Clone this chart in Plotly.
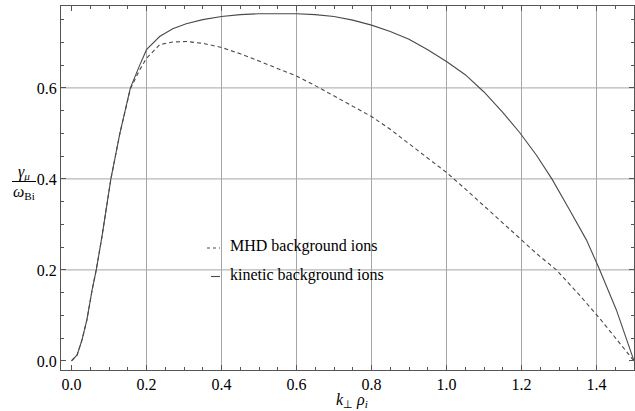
import plotly.graph_objects as go

# growth rate gamma_mu / omega_Bi versus k_perp rho_i
k_kinetic = [0.0, 0.015, 0.028, 0.041, 0.055, 0.066, 0.081, 0.105, 0.129, 0.157,
             0.182, 0.2, 0.235, 0.27, 0.306, 0.35, 0.4, 0.45, 0.5, 0.563, 0.6,
             0.65, 0.7, 0.75, 0.8, 0.85, 0.9, 0.95, 1.0, 1.05, 1.1, 1.15, 1.195,
             1.24, 1.281, 1.328, 1.373, 1.405, 1.453, 1.5]
gamma_kinetic = [0.0, 0.013, 0.046, 0.09, 0.156, 0.2, 0.272, 0.4, 0.5, 0.6,
                 0.65, 0.684, 0.713, 0.73, 0.741, 0.75, 0.757, 0.761, 0.763,
                 0.764, 0.763, 0.761, 0.757, 0.749, 0.738, 0.724, 0.707, 0.684,
                 0.658, 0.629, 0.591, 0.546, 0.502, 0.452, 0.4, 0.332, 0.266,
                 0.207, 0.112, 0.0]

k_mhd = [0.0, 0.015, 0.028, 0.041, 0.055, 0.066, 0.081, 0.105, 0.129, 0.157,
         0.182, 0.2, 0.235, 0.27, 0.306, 0.35, 0.4, 0.45, 0.5, 0.55, 0.6, 0.65,
         0.7, 0.75, 0.8, 0.85, 0.9, 0.95, 1.0, 1.05, 1.1, 1.15, 1.195, 1.24,
         1.293, 1.35, 1.405, 1.45, 1.5]
gamma_mhd = [0.0, 0.013, 0.046, 0.09, 0.156, 0.2, 0.272, 0.4, 0.5, 0.598,
             0.64, 0.665, 0.695, 0.701, 0.702, 0.698, 0.689, 0.675, 0.659,
             0.643, 0.626, 0.605, 0.582, 0.56, 0.537, 0.509, 0.478, 0.447,
             0.414, 0.378, 0.341, 0.304, 0.27, 0.236, 0.2, 0.149, 0.097,
             0.051, 0.0]

legend_labels = ["MHD background ions", "kinetic background ions"]
x_grid = [0.2, 0.4, 0.6, 0.8, 1.0, 1.2, 1.4]
y_grid = [0.2, 0.4, 0.6]
x_ticks = [0.0, 0.2, 0.4, 0.6, 0.8, 1.0, 1.2, 1.4]
y_ticks = [0.0, 0.2, 0.4, 0.6]

W, H = 635, 411
ML, MR, MT, MB = 61, 1, 6, 41
PW, PH = W - ML - MR, H - MT - MB

def px(xp):
    return (xp - ML) / PW

def py(yp):
    return (H - MB - yp) / PH

SERIF = "Liberation Serif"
CURVE = "#4a4a4a"
GRID = "#a6a6a6"
FRAME = "#555555"

fig = go.Figure()
fig.add_trace(go.Scatter(x=k_mhd, y=gamma_mhd, mode="lines",
                         line=dict(color=CURVE, width=1.1, dash="4px,3px"),
                         name=legend_labels[0], showlegend=False))
fig.add_trace(go.Scatter(x=k_kinetic, y=gamma_kinetic, mode="lines",
                         line=dict(color=CURVE, width=1.1),
                         name=legend_labels[1], showlegend=False))

shapes = []
for xv in x_grid:
    shapes.append(dict(type="line", xref="x", yref="paper", x0=xv, x1=xv, y0=0, y1=1,
                       line=dict(color=GRID, width=1), layer="below"))
for yv in y_grid:
    shapes.append(dict(type="line", xref="paper", yref="y", x0=0, x1=1, y0=yv, y1=yv,
                       line=dict(color=GRID, width=1), layer="below"))

# legend samples
shapes.append(dict(type="line", xref="paper", yref="paper", x0=px(207), x1=px(220),
                   y0=py(248), y1=py(248), line=dict(color=CURVE, width=1.1, dash="3px,3px")))
shapes.append(dict(type="line", xref="paper", yref="paper", x0=px(211), x1=px(220),
                   y0=py(276.5), y1=py(276.5), line=dict(color=CURVE, width=1.1)))
# fraction bar of the y label
shapes.append(dict(type="line", xref="paper", yref="paper", x0=px(12), x1=px(36),
                   y0=py(181.5), y1=py(181.5), line=dict(color="black", width=1)))

annotations = [
    dict(text=legend_labels[0], x=px(228), y=py(246), xref="paper", yref="paper",
         xanchor="left", yanchor="middle", showarrow=False,
         font=dict(family=SERIF, size=16, color="black")),
    dict(text=legend_labels[1], x=px(228), y=py(275), xref="paper", yref="paper",
         xanchor="left", yanchor="middle", showarrow=False,
         font=dict(family=SERIF, size=16, color="black")),
    dict(text="<i>γ</i><sub><i>μ</i></sub>", x=px(24), y=py(172), xref="paper", yref="paper",
         xanchor="center", yanchor="middle", showarrow=False,
         font=dict(family=SERIF, size=16, color="black")),
    dict(text="<i>ω</i><sub>Bi</sub>", x=px(24), y=py(192), xref="paper", yref="paper",
         xanchor="center", yanchor="middle", showarrow=False,
         font=dict(family=SERIF, size=16, color="black")),
    dict(text="<i>k</i><sub>⊥</sub> <i>ρ</i><sub><i>i</i></sub>", x=px(352), y=py(400),
         xref="paper", yref="paper", xanchor="center", yanchor="middle", showarrow=False,
         font=dict(family=SERIF, size=16, color="black")),
]

axis_common = dict(showgrid=False, zeroline=False, showline=True, linecolor=FRAME,
                   linewidth=1, mirror="ticks", ticks="inside", ticklen=5, tickwidth=1,
                   tickcolor=FRAME, tickformat=".1f",
                   tickfont=dict(family=SERIF, size=16, color="black"))

fig.update_layout(
    width=W, height=H,
    margin=dict(l=ML, r=MR, t=MT, b=MB, pad=0),
    paper_bgcolor="white", plot_bgcolor="white",
    showlegend=False,
    font=dict(family=SERIF),
    xaxis=dict(range=[-0.028, 1.5], tickvals=x_ticks,
               minor=dict(dtick=0.05, tick0=0, ticks="inside", ticklen=3, tickcolor=FRAME),
               **axis_common),
    yaxis=dict(range=[-0.02, 0.78], tickvals=y_ticks,
               minor=dict(dtick=0.05, tick0=0, ticks="inside", ticklen=3, tickcolor=FRAME),
               **axis_common),
    shapes=shapes,
    annotations=annotations,
)

fig.write_html("out.html")
